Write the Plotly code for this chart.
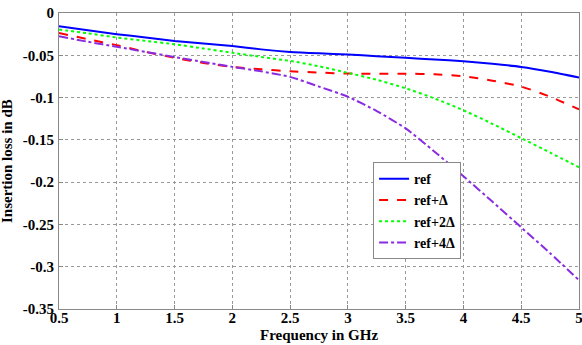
import plotly.graph_objects as go

freq = [0.5, 0.75, 1.0, 1.25, 1.5, 1.75, 2.0, 2.25, 2.5, 2.75, 3.0, 3.25, 3.5, 3.75, 4.0, 4.25, 4.5, 4.75, 5.0]
ref = [-0.0157, -0.0205, -0.025, -0.029, -0.033, -0.036, -0.039, -0.043, -0.046, -0.0477, -0.049,
       -0.051, -0.053, -0.055, -0.057, -0.060, -0.0638, -0.0695, -0.0763]
ref_d = [-0.0236, -0.031, -0.038, -0.046, -0.053, -0.059, -0.0637, -0.0665, -0.0689, -0.0705, -0.0716,
         -0.0718, -0.0718, -0.0725, -0.0748, -0.080, -0.087, -0.099, -0.114]
ref_2d = [-0.0196, -0.024, -0.029, -0.033, -0.037, -0.042, -0.047, -0.052, -0.0567, -0.063, -0.0708,
          -0.079, -0.089, -0.101, -0.115, -0.131, -0.148, -0.165, -0.1825]
ref_4d = [-0.0275, -0.034, -0.040, -0.046, -0.052, -0.058, -0.0637, -0.069, -0.0755, -0.087, -0.099,
          -0.116, -0.1365, -0.164, -0.193, -0.223, -0.2535, -0.284, -0.316]
names = ["ref", "ref+Δ", "ref+2Δ", "ref+4Δ"]
x_ticks = [0.5, 1, 1.5, 2, 2.5, 3, 3.5, 4, 4.5, 5]
x_labels = ["0.5", "1", "1.5", "2", "2.5", "3", "3.5", "4", "4.5", "5"]
y_ticks = [0, -0.05, -0.1, -0.15, -0.2, -0.25, -0.3, -0.35]
y_labels = ["0", "-0.05", "-0.1", "-0.15", "-0.2", "-0.25", "-0.3", "-0.35"]

series = [ref, ref_d, ref_2d, ref_4d]
colors = ["#0000FF", "#FF0000", "#00FF00", "#8A2BE2"]
dashes = ["solid", "dash", "dot", "dashdot"]

FAM = "Liberation Serif"

fig = go.Figure()
for n, s, c, d in zip(names, series, colors, dashes):
    fig.add_trace(go.Scatter(x=freq, y=s, name=n, mode="lines",
                             line=dict(color=c, dash=d, width=2, shape="spline", smoothing=0.6)))

tfont = dict(family=FAM, size=15, color="black", weight="bold")
axis_common = dict(showline=True, linecolor="#888888", linewidth=1, mirror=True,
                   showgrid=True, gridcolor="#999999", griddash="dot", gridwidth=1,
                   zeroline=False, ticks="inside", ticklen=4, tickcolor="#888888",
                   tickfont=tfont, automargin=False, ticklabeloverflow="allow")
fig.update_layout(
    width=582, height=345,
    margin=dict(l=59, r=3, t=13, b=36, autoexpand=False),
    paper_bgcolor="white", plot_bgcolor="white",
    font=dict(family=FAM, size=15, color="black"),
    xaxis=dict(range=[0.5, 5], tickvals=x_ticks, ticktext=x_labels, ticklabelstandoff=-5, **axis_common),
    yaxis=dict(range=[-0.35, 0], tickvals=y_ticks, ticktext=y_labels, ticklabelstandoff=1, **axis_common),
    legend=dict(x=0.604, y=0.496, xanchor="left", yanchor="top",
                bgcolor="white", bordercolor="#888888", borderwidth=1,
                font=dict(family=FAM, size=14, color="black", weight="bold"),
                itemwidth=30, tracegroupgap=0),
    showlegend=True,
    annotations=[
        dict(text="<b>Frequency in GHz</b>", xref="paper", yref="paper", x=0.5, y=0,
             yshift=-16, xanchor="center", yanchor="top", showarrow=False,
             font=dict(family=FAM, size=15, color="black")),
        dict(text="<b>Insertion loss in dB</b>", xref="paper", yref="paper", x=0, y=0.5,
             xshift=-42, xanchor="right", yanchor="middle", textangle=-90, showarrow=False,
             font=dict(family=FAM, size=15, color="black")),
    ],
)
fig.write_html("out.html", config={"displayModeBar": False},
               post_script="document.body.style.margin='0';document.body.style.overflow='hidden';")
